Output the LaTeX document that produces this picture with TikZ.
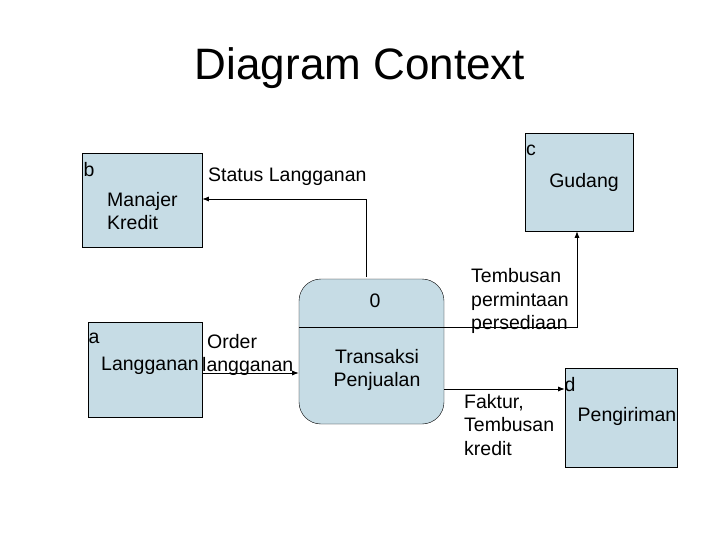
\documentclass[tikz,border=0pt]{standalone}
\usepackage{fontspec}
\setmainfont{Liberation Sans}
\usetikzlibrary{arrows.meta}
\begin{document}
\begin{tikzpicture}[x=1pt, y=-1pt, >=Latex]
 % styles for the entities, the process and the flows
 \tikzset{
entity/.style = {draw, rectangle, fill=cyan!15!teal!25!white, inner sep=0pt},
flow/.style = {draw, ->, thick},
txt/.style = {font=\fontsize{19.5}{23.5}\selectfont, inner sep=0pt},
}
 \useasboundingbox (0,0) rectangle (720,540);
 \node[font=\fontsize{44}{50}\selectfont] (title) at (360,68) {Diagram Context};

 % external entities
 \node[entity, minimum width=120pt, minimum height=94pt] (kredit) at (142,200) {};
 \node[entity, minimum width=108pt, minimum height=98pt] (gudang) at (579,182) {};
 \node[entity, minimum width=114pt, minimum height=95pt] (langganan) at (145,369.5) {};
 \node[entity, minimum width=112pt, minimum height=99pt] (kirim) at (621,417.5) {};

 % process
 \node[draw, rectangle, rounded corners=22pt, fill=cyan!15!teal!25!white, minimum width=145pt, minimum height=145pt] (proses) at (371.5,351.5) {};
 \draw (proses.west |- 0,327) coordinate (pw) -- (proses.east |- 0,327) coordinate (pe);

 % texts
 \node[txt] (lb) at (89,170) {b};
 \node[txt, align=left, anchor=west] (tkredit) at (107,211) {Manajer\\Kredit};
 \node[txt] (lc) at (531,150) {c};
 \node[txt] (tgudang) at (584,182) {Gudang};
 \node[txt] (la) at (94,338) {a};
 \node[txt] (tlangganan) at (150,366) {Langganan};
 \node[txt] (ld) at (570,385) {d};
 \node[txt] (tkirim) at (627,416) {Pengiriman};
 \node[txt] (nol) at (375,301) {0};
 \node[txt, align=center] (tproses) at (377,370) {Transaksi\\Penjualan};

 % flows
 \coordinate (s1) at (366,277);
 \draw[flow] (s1) |- (kredit.east |- 0,199);
 \node[txt, anchor=west] (tstatus) at (208,177) {Status Langganan};
 \draw[flow] (pe) -| (gudang.south -| 577,0);
 \node[txt, align=left, anchor=west] (ttembus) at (471,301) {Tembusan\\permintaan\\persediaan};
 \draw[flow] (langganan.east |- 0,373) -- (proses.west |- 0,373);
 \node[txt, align=left, anchor=west] (torder) at (202,355) {\hspace*{5pt}Order\\langganan};
 \draw[flow] (proses.east |- 0,389) -- (kirim.west |- 0,389);
 \node[txt, align=left, anchor=west] (tfaktur) at (464,425) {Faktur,\\Tembusan\\kredit};
\end{tikzpicture}
\end{document}
